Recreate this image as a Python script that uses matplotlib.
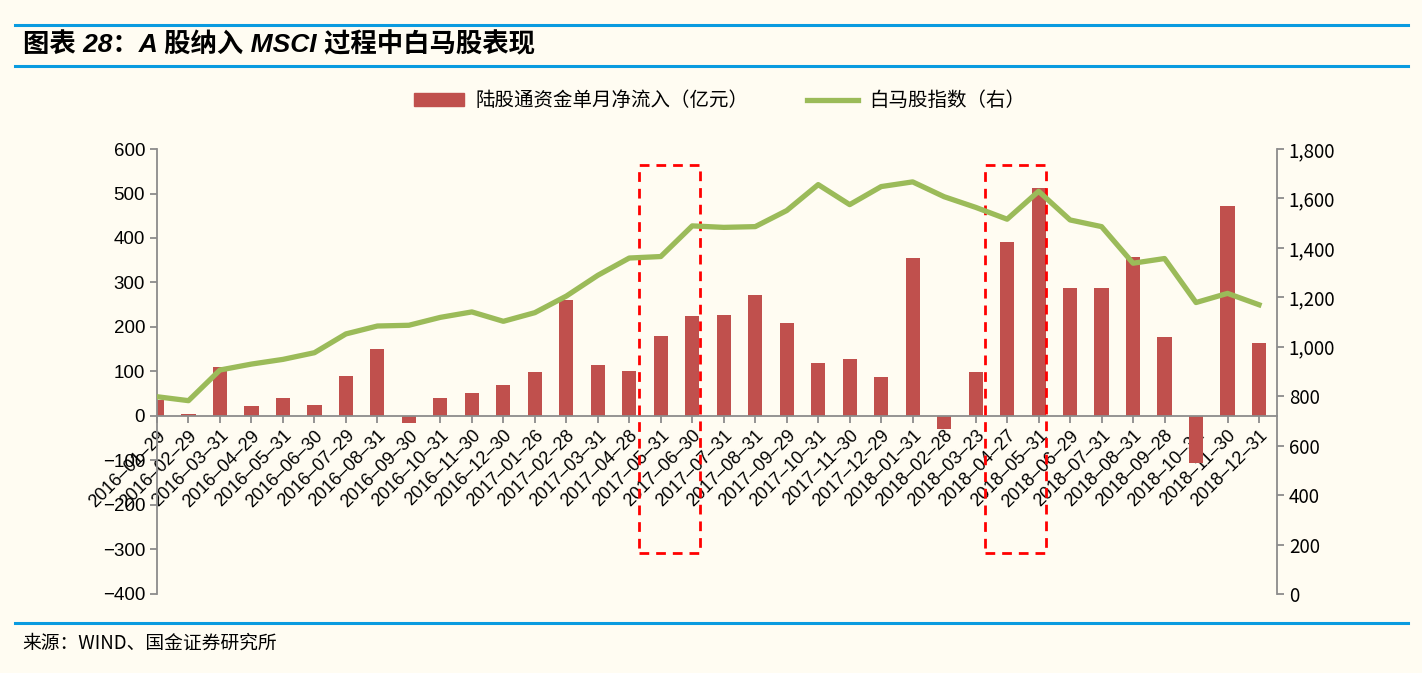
import matplotlib
matplotlib.use("Agg")
import matplotlib.pyplot as plt
from matplotlib.patches import Rectangle
from matplotlib.lines import Line2D

dates = [
    "2016-01-29", "2016-02-29", "2016-03-31", "2016-04-29", "2016-05-31", "2016-06-30",
    "2016-07-29", "2016-08-31", "2016-09-30", "2016-10-31", "2016-11-30", "2016-12-30",
    "2017-01-26", "2017-02-28", "2017-03-31", "2017-04-28", "2017-05-31", "2017-06-30",
    "2017-07-31", "2017-08-31", "2017-09-29", "2017-10-31", "2017-11-30", "2017-12-29",
    "2018-01-31", "2018-02-28", "2018-03-23", "2018-04-27", "2018-05-31", "2018-06-29",
    "2018-07-31", "2018-08-31", "2018-09-28", "2018-10-31", "2018-11-30", "2018-12-31",
]
# 陆股通资金单月净流入（亿元）
inflow = [
    37, 4, 109, 23, 40, 25, 89, 150, -16, 40, 52, 69,
    99, 261, 114, 102, 180, 224, 226, 273, 210, 120, 128, 88,
    355, -29, 99, 390, 512, 287, 287, 357, 178, -106, 472, 163,
]
# 白马股指数（右）
index_vals = [
    798, 782, 906, 930, 949, 976, 1052, 1084, 1087, 1119, 1141, 1103,
    1138, 1205, 1289, 1359, 1365, 1489, 1483, 1486, 1551, 1656, 1575, 1648,
    1667, 1607, 1564, 1516, 1629, 1513, 1486, 1338, 1357, 1179, 1216, 1170,
]
left_ticks = [-400, -300, -200, -100, 0, 100, 200, 300, 400, 500, 600]
right_ticks = [0, 200, 400, 600, 800, 1000, 1200, 1400, 1600, 1800]
# MSCI 节点的虚线框：(起始类目, 结束类目)
highlights = [(16, 17), (27, 28)]

BG = "#FFFCF2"
BAR = "#C0504D"
LINE = "#9BBB59"
AXC = "#8C8C8C"
BLUE = "#0A9BE0"
CJK = ["Noto Sans CJK SC", "DejaVu Sans"]
LAT = ["Liberation Sans", "Noto Sans CJK SC"]

plt.rcParams["font.family"] = LAT

fig = plt.figure(figsize=(14.22, 6.73), dpi=100, facecolor=BG)
ax = fig.add_axes([0.1104, 0.1174, 0.7876, 0.6612])
ax.set_facecolor(BG)
ax2 = ax.twinx()

# spine 位置要先设，否则会重置刻度标签
ax.spines["bottom"].set_position(("data", 0))

x = list(range(len(dates)))
ax.bar(x, inflow, width=0.45, color=BAR, zorder=2)
ax2.plot(x, index_vals, color=LINE, lw=3.8, solid_joinstyle="round", zorder=3)

ax.set_xlim(0, len(dates) - 1 + 0.57)
ax.set_ylim(-400, 600)
ax2.set_ylim(0, 1800)

for a in (ax, ax2):
    a.spines["top"].set_visible(False)
    for s in a.spines.values():
        s.set_color(AXC)
        s.set_linewidth(1.3)
ax.spines["right"].set_visible(False)
ax2.spines["left"].set_visible(False)
ax2.spines["bottom"].set_visible(False)
ax.tick_params(axis="both", colors=AXC, labelcolor="black", length=5, width=1.3)
ax.tick_params(axis="x", pad=3)
ax2.tick_params(axis="y", colors=AXC, labelcolor="black", length=5, width=1.3)

ax.set_yticks(left_ticks)
ax.set_yticklabels([str(v).replace("-", "\u2212") for v in left_ticks], fontsize=13.5)
ax2.set_yticks(right_ticks)
ax2.set_yticklabels([f"{v:,}" for v in right_ticks], fontsize=13.5, family=CJK)

ax.set_xticks(x)
ax.set_xticklabels([d.replace("-", "\u2013") for d in dates], rotation=45,
                   ha="right", va="top", rotation_mode="anchor", fontsize=13)

# 虚线框
for i0, i1 in highlights:
    r = Rectangle((i0 - 0.7, -308), (i1 - i0) + 0.95, 872, fill=False,
                  edgecolor="#FF0000", lw=2.0, ls=(0, (3.5, 2.5)), zorder=5,
                  clip_on=False)
    ax.add_patch(r)

# 图例
handles = [
    Rectangle((0, 0), 1, 1, color=BAR),
    Line2D([0], [0], color=LINE, lw=3.8),
]
fig.legend(handles, ["陆股通资金单月净流入（亿元）", "白马股指数（右）"],
           loc="center", bbox_to_anchor=(0.506, 0.85), ncol=2, frameon=False,
           prop={"family": CJK, "size": 14}, handlelength=2.6, handleheight=0.6,
           columnspacing=3.0, handletextpad=0.6)

# 标题与来源
fig.add_artist(Line2D([0.0105, 0.99], [1 - 25 / 673] * 2, color=BLUE, lw=2.2))
fig.add_artist(Line2D([0.0105, 0.99], [1 - 66 / 673] * 2, color=BLUE, lw=2.2))
fig.add_artist(Line2D([0.0105, 0.99], [1 - 623 / 673] * 2, color=BLUE, lw=2.2))
fig.text(0.016, 1 - 45 / 673, "图表 28：A 股纳入 MSCI 过程中白马股表现",
         family=LAT, fontsize=19, fontweight="bold", style="italic", va="center")
fig.text(0.016, 1 - 643 / 673, "来源：WIND、国金证券研究所",
         family=CJK, fontsize=13.5, va="center")

fig.savefig("out.png", dpi=100, facecolor=BG)
